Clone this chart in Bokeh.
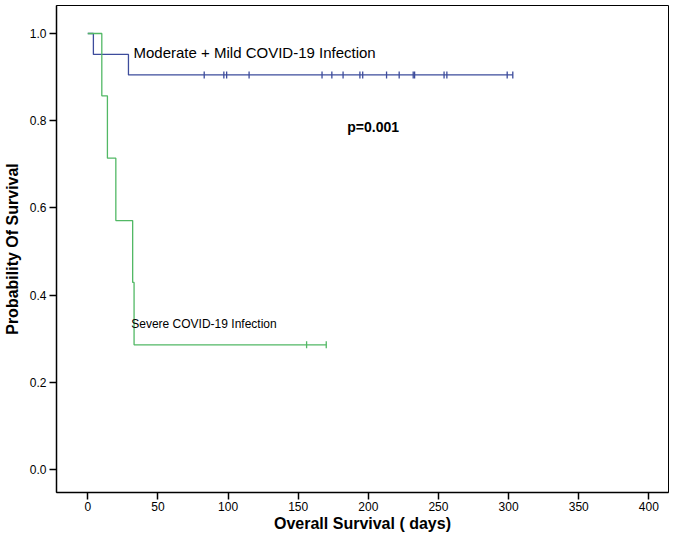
import numpy as np
from bokeh.plotting import figure
from bokeh.models import Range1d, FixedTicker, NumeralTickFormatter
from bokeh.core.properties import value
from bokeh.embed import file_html
from bokeh.resources import INLINE

# Moderate + Mild group (Kaplan-Meier step curve)
mild_times = [0, 4, 29, 303]
mild_surv = [1.0, 0.952, 0.905, 0.905]
mild_censor_times = [83, 97, 99, 115, 167, 174, 182, 194, 196, 213, 222, 232, 233, 254, 256, 299, 303]
mild_censor_surv = [0.905] * len(mild_censor_times)

# Severe group
severe_times = [0, 10, 14, 20, 32, 33, 170]
severe_surv = [1.0, 0.857, 0.714, 0.571, 0.429, 0.286, 0.286]
severe_censor_times = [156, 170]
severe_censor_surv = [0.286, 0.286]

x_ticks = [0, 50, 100, 150, 200, 250, 300, 350, 400]
y_ticks = [0.0, 0.2, 0.4, 0.6, 0.8, 1.0]

BLUE = "#3d4c9c"
GREEN = "#52b865"
FONT = "Liberation Sans"

p = figure(width=669, height=535, output_backend="svg", toolbar_location=None,
           x_range=Range1d(-22.3, 414.0), y_range=Range1d(-0.0528, 1.0642),
           min_border_left=56, min_border_right=1, min_border_top=5, min_border_bottom=43)

p.xgrid.visible = False
p.ygrid.visible = False
p.outline_line_color = "black"
p.outline_line_width = 1
p.background_fill_color = "white"

for ax in (p.xaxis[0], p.yaxis[0]):
    ax.major_tick_in = 0
    ax.major_tick_out = 7
    ax.minor_tick_line_color = None
    ax.axis_line_color = "black"
    ax.axis_line_width = 1.5
    ax.major_tick_line_color = "black"
    ax.major_tick_line_width = 1.5
    ax.major_label_text_font = FONT
    ax.major_label_text_font_size = "12px"
    ax.major_label_text_color = "black"
    ax.axis_label_text_font = FONT
    ax.axis_label_text_font_size = "16px"
    ax.axis_label_text_font_style = "bold"
    ax.axis_label_text_color = "black"

p.xaxis.ticker = FixedTicker(ticks=x_ticks)
p.yaxis.ticker = FixedTicker(ticks=y_ticks)
p.yaxis.formatter = NumeralTickFormatter(format="0.0")
p.xaxis.axis_label = "Overall Survival ( days)"
p.yaxis.axis_label = "Probability Of Survival"
p.xaxis.major_label_standoff = 2
p.xaxis.axis_label_standoff = 1
p.yaxis.major_label_standoff = 3
p.yaxis.axis_label_standoff = 6

p.step(mild_times, mild_surv, mode="after", line_color=BLUE, line_width=1.3)
p.step(severe_times, severe_surv, mode="after", line_color=GREEN, line_width=1.3)

p.scatter(mild_censor_times, mild_censor_surv, marker="dash", angle=np.pi / 2,
          size=7, line_color=BLUE, line_width=1.3)
p.scatter(severe_censor_times, severe_censor_surv, marker="dash", angle=np.pi / 2,
          size=7, line_color=GREEN, line_width=1.3)

p.text(x=[32.6], y=[0.956], text=["Moderate + Mild COVID-19 Infection"],
       text_font=value(FONT), text_font_size="15px", text_baseline="middle",
       text_color="black")
p.text(x=[31], y=[0.333], text=["Severe COVID-19 Infection"],
       text_font=value(FONT), text_font_size="12px", text_baseline="middle",
       text_color="black")
p.text(x=[185], y=[0.785], text=["p=0.001"],
       text_font=value(FONT), text_font_size="14px", text_font_style="bold",
       text_baseline="middle", text_color="black")

open("out.html", "w").write(file_html(p, INLINE))
